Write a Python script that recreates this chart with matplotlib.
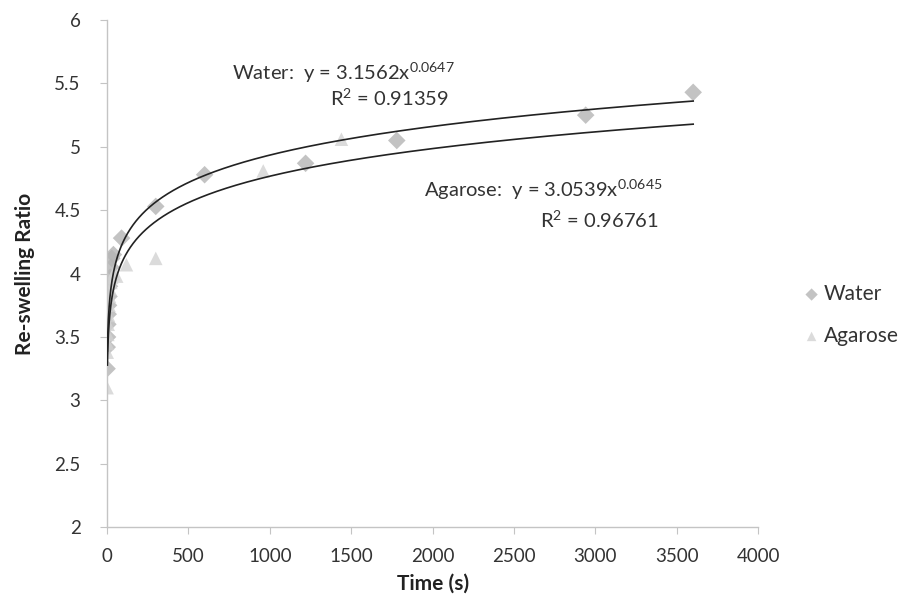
import numpy as np
import matplotlib
matplotlib.use("Agg")
import matplotlib.pyplot as plt

plt.rcParams['font.family'] = ['Lato', 'DejaVu Sans']
plt.rcParams['mathtext.fontset'] = 'custom'
plt.rcParams['mathtext.rm'] = 'Lato'
plt.rcParams['mathtext.it'] = 'Lato'
plt.rcParams['mathtext.bf'] = 'Lato:bold'

water_t = [1, 2, 4, 6, 8, 10, 13, 16, 20, 25, 30, 40, 90, 300, 600, 1220, 1780, 2940, 3600]
water_y = [3.25, 3.42, 3.5, 3.6, 3.68, 3.75, 3.82, 3.9, 3.97, 4.05, 4.12, 4.15, 4.28, 4.53, 4.78, 4.87, 5.05, 5.25, 5.43]

agar_t = [1, 2, 4, 6, 8, 10, 13, 16, 20, 25, 30, 40, 60, 120, 300, 960, 1440]
agar_y = [3.1, 3.38, 3.45, 3.52, 3.6, 3.67, 3.75, 3.82, 3.88, 3.93, 3.97, 4.0, 3.98, 4.07, 4.12, 4.81, 5.06]

water_a, water_b, water_r2 = 3.1562, 0.0647, 0.91359
agar_a, agar_b, agar_r2 = 3.0539, 0.0645, 0.96761

fig = plt.figure(figsize=(9.06, 6.08), dpi=100)
ax = fig.add_axes([0.118, 0.133, 0.719, 0.834])

ax.scatter(water_t, water_y, marker='D', s=80, color='#b4b4b4', edgecolors='none', alpha=0.8, label='Water', zorder=2)
ax.scatter(agar_t, agar_y, marker='^', s=95, color='#d2d2d2', edgecolors='none', alpha=0.8, label='Agarose', zorder=2)

xs = np.linspace(3, 3600, 3000)
ax.plot(xs, water_a * xs ** water_b, color='#222222', lw=1.2, zorder=3)
ax.plot(xs, agar_a * xs ** agar_b, color='#222222', lw=1.2, zorder=3)

ax.set_xlim(0, 4000)
ax.set_ylim(2, 6)
ax.set_xticks(np.arange(0, 4001, 500))
ax.set_yticks(np.arange(2, 6.01, 0.5))
ax.set_yticklabels(['2', '2.5', '3', '3.5', '4', '4.5', '5', '5.5', '6'])

for s in ['top', 'right']:
    ax.spines[s].set_visible(False)
for s in ['left', 'bottom']:
    ax.spines[s].set_color('#c4c4c4')
    ax.spines[s].set_linewidth(1.0)
ax.tick_params(axis='both', colors='#c4c4c4', labelcolor='#333333', labelsize=13.5, length=5, direction='out')
ax.tick_params(axis='x', pad=10)
ax.tick_params(axis='y', pad=14)

ax.set_xlabel('Time (s)', fontsize=15, fontweight='bold', color='#222222', labelpad=6)
ax.set_ylabel('Re-swelling Ratio', fontsize=15, fontweight='bold', color='#222222', labelpad=14)

fs = 14.5
ax.text(770, 5.58, 'Water:  y = %.4fx$^{%.4f}$' % (water_a, water_b), fontsize=fs, color='#333333', ha='left', va='center')
ax.text(1370, 5.38, 'R$^2$ = %.5f' % water_r2, fontsize=fs, color='#333333', ha='left', va='center')
ax.text(1950, 4.66, 'Agarose:  y = %.4fx$^{%.4f}$' % (agar_a, agar_b), fontsize=fs, color='#333333', ha='left', va='center')
ax.text(2660, 4.42, 'R$^2$ = %.5f' % agar_r2, fontsize=fs, color='#333333', ha='left', va='center')

leg = fig.legend(handles=ax.collections, labels=['Water', 'Agarose'], loc='center left',
                 bbox_to_anchor=(0.882, 0.482), bbox_transform=fig.transFigure, frameon=False, fontsize=15,
                 handletextpad=0.0, labelspacing=1.05, markerscale=0.7, borderaxespad=0.0,
                 borderpad=0.0, handlelength=1.2)
for t in leg.get_texts():
    t.set_color('#333333')

fig.savefig('out.png', dpi=100)
